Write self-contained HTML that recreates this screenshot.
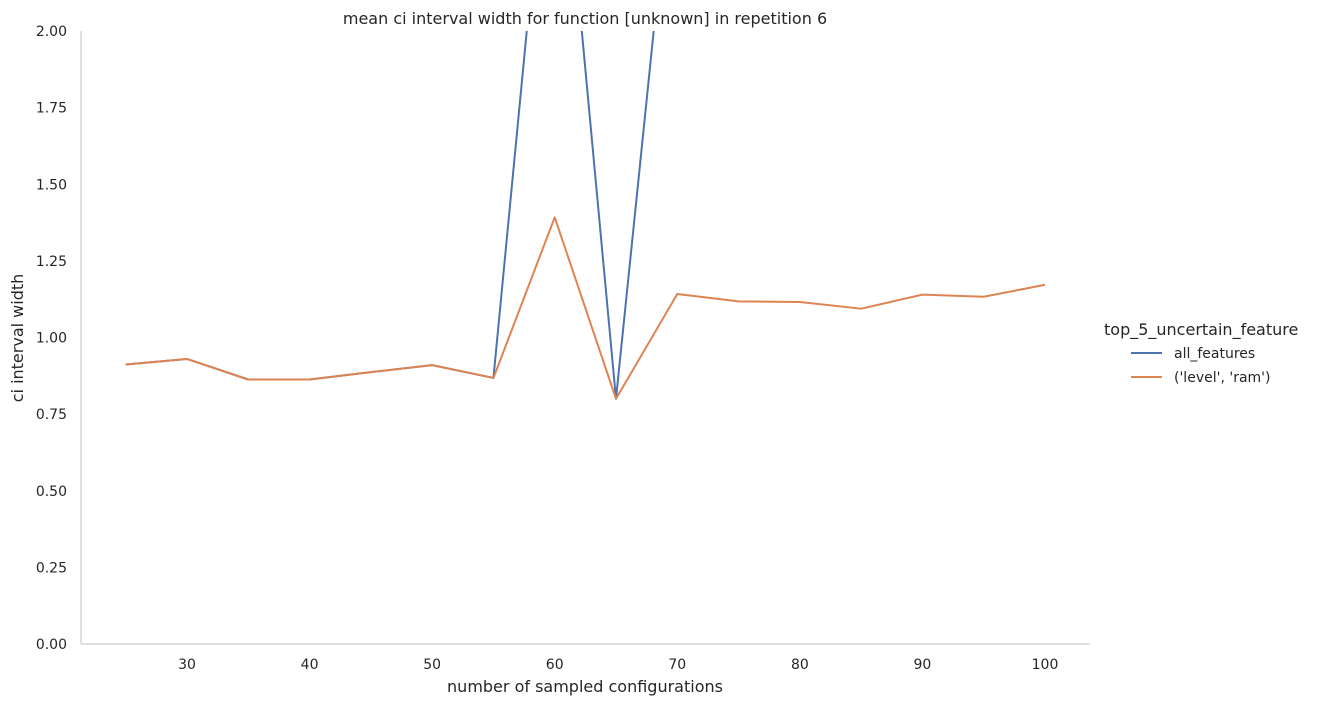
<!DOCTYPE html>
<html><head><meta charset="utf-8"><style>
body{margin:0;background:#fff;font-family:"DejaVu Sans","Liberation Sans",sans-serif;}
svg text{fill:#262626;font-family:"DejaVu Sans","Liberation Sans",sans-serif;}
</style></head><body>
<svg id="chart" width="1319" height="706">
<defs><clipPath id="plotclip"><rect x="81" y="31" width="1009" height="613"/></clipPath></defs>
<g id="axes"></g>
<g id="series" clip-path="url(#plotclip)"></g>
<text x="585" y="24" text-anchor="middle" font-size="16">mean ci interval width for function [unknown] in repetition 6</text>
<text x="585" y="692" text-anchor="middle" font-size="16">number of sampled configurations</text>
<text transform="translate(23,338) rotate(-90)" text-anchor="middle" font-size="16">ci interval width</text>
<g>
<text x="1104" y="335" font-size="16">top_5_uncertain_feature</text>
<line x1="1131" y1="353" x2="1162" y2="353" stroke="#4c72b0" stroke-width="2"/>
<text x="1174" y="358" font-size="14">all_features</text>
<line x1="1131" y1="377" x2="1162" y2="377" stroke="#dd8452" stroke-width="2"/>
<text x="1174" y="382" font-size="14">('level', 'ram')</text>
</g>
</svg>
<script>
const xs=[25,30,35,40,45,50,55,60,65,70,75,80,85,90,95,100];
const allFeatures=[0.912,0.930,0.863,0.863,0.887,0.910,0.868,2.95,0.80,2.75,2.8,2.8,2.8,2.8,2.8,2.8];
const levelRam=[0.912,0.930,0.863,0.863,0.887,0.910,0.868,1.392,0.80,1.142,1.118,1.116,1.094,1.140,1.133,1.172];
const xTicks=[30,40,50,60,70,80,90,100];
const yTicks=[0,0.25,0.5,0.75,1.0,1.25,1.5,1.75,2.0];
const X=v=>187+(v-30)*(1045-187)/70;
const Y=v=>644-v*306.5;
const NS="http://www.w3.org/2000/svg";
const axes=document.getElementById('axes'),series=document.getElementById('series');
function mk(t,a,p){const e=document.createElementNS(NS,t);for(const k in a)e.setAttribute(k,a[k]);p.appendChild(e);return e;}
const la=mk('line',{x1:81,y1:31,x2:81,y2:644,stroke:'#cccccc','stroke-width':1.2},axes);


const lb=mk('line',{x1:81,y1:644,x2:1090,y2:644,stroke:'#cccccc','stroke-width':1.2},axes);


xTicks.forEach(t=>{const e=mk('text',{x:X(t),y:669,'text-anchor':'middle','font-size':14},axes);e.textContent=t;

});
yTicks.forEach(t=>{const e=mk('text',{x:67,y:Y(t)+5,'text-anchor':'end','font-size':14},axes);e.textContent=t.toFixed(2);

});
function line(vals,color,name){const p=mk('polyline',{points:vals.map((v,i)=>X(xs[i])+','+Y(v)).join(' '),fill:'none',stroke:color,'stroke-width':2,'stroke-linejoin':'round'},series);

}
line(allFeatures,'#4c72b0','all-features-line');
line(levelRam,'#dd8452','level-ram-line');
</script>
</body></html>
